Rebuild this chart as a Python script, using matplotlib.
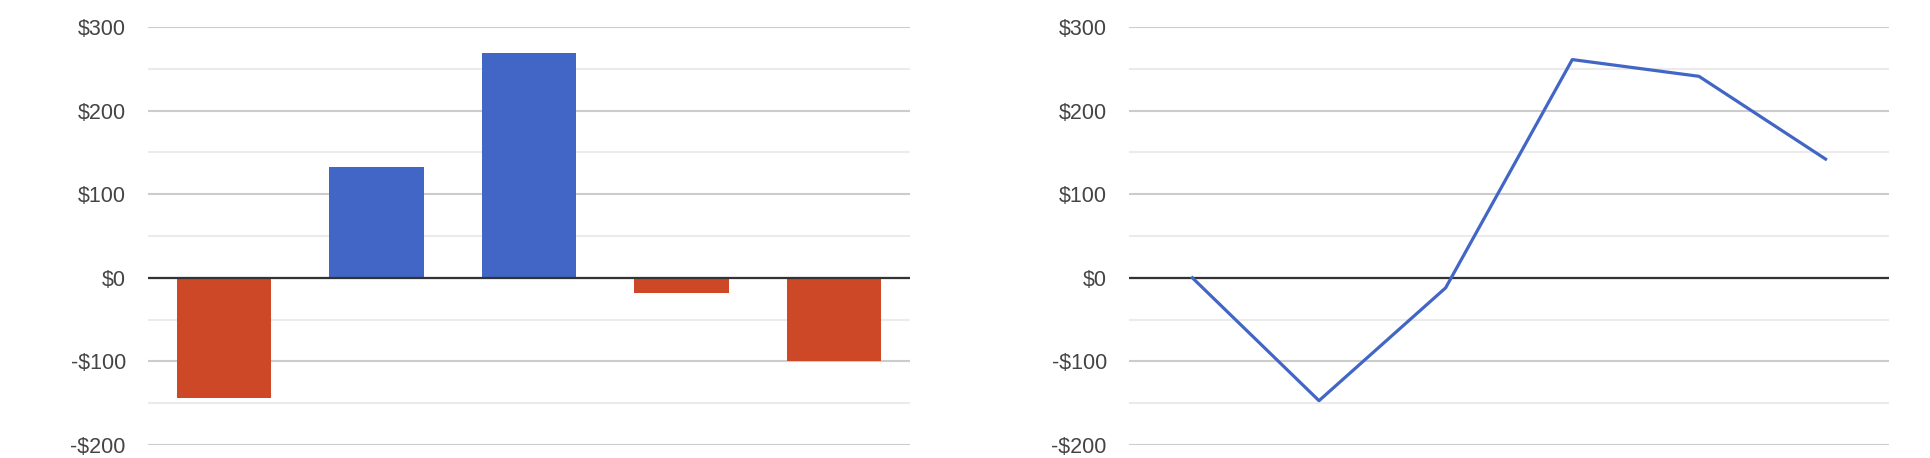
import matplotlib.pyplot as plt
from matplotlib.ticker import MultipleLocator, FuncFormatter

plt.rcParams['font.family'] = ['Liberation Sans', 'DejaVu Sans']

# data
bar_values = [-144, 132, 269, -18, -99]
line_values = [0, -147, -12, 261, 241, 142]
yticks = [-200, -100, 0, 100, 200, 300]

blue = '#4166c5'
red = '#cc4827'

fig = plt.figure(figsize=(19.3, 4.58), dpi=100)
ax1 = fig.add_axes([0.0767, 0.0284, 0.3948, 0.9127])
ax2 = fig.add_axes([0.585, 0.0284, 0.3937, 0.9127])


def style(ax):
    ax.set_ylim(-200, 300)
    ax.set_yticks(yticks)
    ax.yaxis.set_minor_locator(MultipleLocator(50))
    ax.yaxis.set_major_formatter(FuncFormatter(lambda v, p: f'-${-v:.0f}' if v < 0 else f'${v:.0f}'))
    ax.grid(axis='y', which='major', color='#cccccc', lw=1.5)
    ax.grid(axis='y', which='minor', color='#ebebeb', lw=1.5)
    ax.set_axisbelow(True)
    for s in ax.spines.values():
        s.set_visible(False)
    ax.tick_params(axis='y', which='both', length=0, pad=16, labelsize=15.5, labelcolor='#444444')
    ax.tick_params(axis='x', which='both', length=0, labelbottom=False)
    ax.axhline(0, color='#333333', lw=1.6, zorder=2.5)


style(ax1)
xs = range(len(bar_values))
colors = [blue if v >= 0 else red for v in bar_values]
ax1.bar(xs, bar_values, width=0.62, color=colors, zorder=2)
ax1.set_xlim(-0.5, len(bar_values) - 0.5)

style(ax2)
ax2.plot(range(len(line_values)), line_values, color=blue, lw=2.3, zorder=3)
ax2.set_xlim(-0.5, len(line_values) - 0.5)

fig.savefig('out.png', dpi=100)
